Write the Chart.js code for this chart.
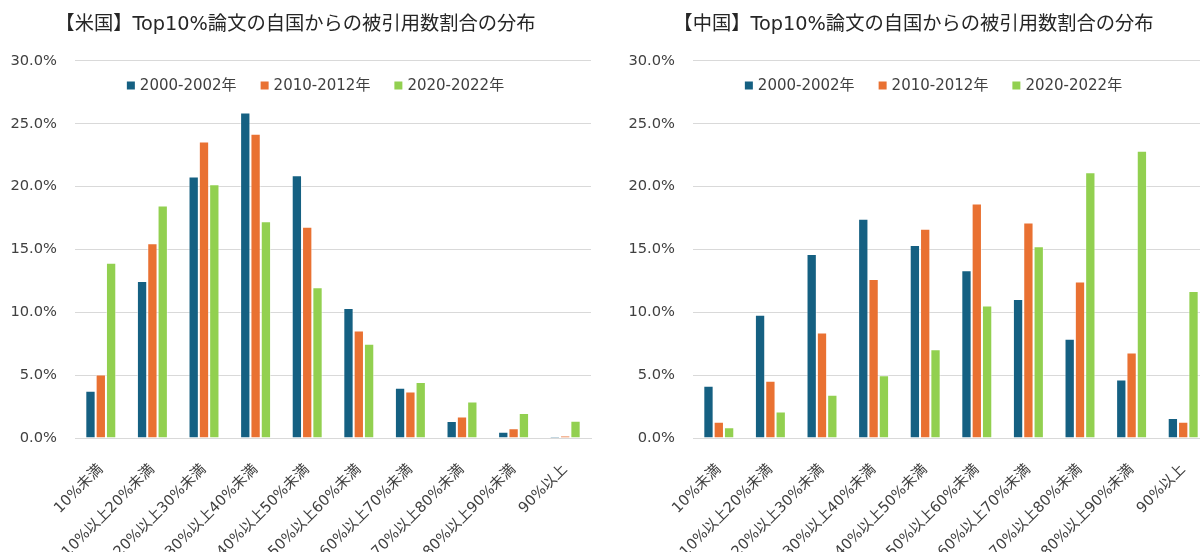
<!DOCTYPE html>
<html>
<head>
<meta charset="utf-8">
<script src="https://cdn.jsdelivr.net/npm/chart.js@4"></script>
<style>
html,body{margin:0;padding:0;background:#fff;overflow:hidden;width:1200px;height:552px;}
.box{position:absolute;top:0;height:552px;}
</style>
</head>
<body>
<div class="box" style="left:0;width:606px;"><canvas id="us" width="606" height="552"></canvas></div>
<div class="box" style="left:618px;width:610px;"><canvas id="cn" width="610" height="552"></canvas></div>
<script>
const categories = ['10%未満','10%以上20%未満','20%以上30%未満','30%以上40%未満','40%以上50%未満','50%以上60%未満','60%以上70%未満','70%以上80%未満','80%以上90%未満','90%以上'];
const seriesLabels = ['2000-2002年','2010-2012年','2020-2022年'];
const seriesColors = ['#156082','#E97132','#92D050'];
const us2000 = [3.75,12.5,20.8,25.9,20.9,10.35,4.0,1.35,0.5,0.1];
const us2010 = [5.05,15.5,23.6,24.2,16.8,8.55,3.7,1.72,0.78,0.2];
const us2020 = [13.95,18.5,20.2,17.25,12.0,7.5,4.45,2.9,1.98,1.37];
const cn2000 = [4.15,9.8,14.65,17.45,15.35,13.35,11.05,7.9,4.65,1.6];
const cn2010 = [1.3,4.55,8.4,12.65,16.65,18.65,17.15,12.45,6.8,1.3];
const cn2020 = [0.85,2.1,3.45,5.0,7.07,10.55,15.25,21.15,22.85,11.7];
const yMin = 0, yMax = 30, yStep = 5;
const titleUS = '【米国】Top10%論文の自国からの被引用数割合の分布';
const titleCN = '【中国】Top10%論文の自国からの被引用数割合の分布';

const FONT = '"DejaVu Sans", "Noto Sans CJK JP", sans-serif';
const TXT = '#404040';

const legendPlugin = {
  id: 'customLegend',
  afterDraw(chart) {
    const ctx = chart.ctx;
    ctx.save();
    ctx.font = '15px ' + FONT;
    ctx.textBaseline = 'middle';
    ctx.textAlign = 'left';
    const sq = 8, gap = 5, itemGap = 24;
    const items = chart.data.datasets.map(d => ({label: d.label, color: d.backgroundColor, w: ctx.measureText(d.label).width}));
    let total = 0;
    items.forEach((it, i) => { total += sq + gap + it.w + (i < items.length - 1 ? itemGap : 0); });
    let x = 315.5 - total / 2;
    const y = 85.5;
    items.forEach(it => {
      ctx.fillStyle = it.color;
      ctx.fillRect(x, y - sq / 2, sq, sq);
      x += sq + gap;
      ctx.fillStyle = TXT;
      ctx.fillText(it.label, x, y + 1);
      x += it.w + itemGap;
    });
    ctx.restore();
  }
};

function makeChart(id, title, a, b, c, padRight) {
  const vals = [a, b, c];
  return new Chart(document.getElementById(id), {
    type: 'bar',
    data: {
      labels: categories,
      datasets: seriesLabels.map((lab, i) => ({
        label: lab,
        data: vals[i],
        backgroundColor: seriesColors[i],
        borderColor: 'rgba(255,255,255,0.5)',
        borderWidth: 1,
        categoryPercentage: 0.6,
        barPercentage: 1.0
      }))
    },
    options: {
      responsive: false,
      animation: false,
      layout: { padding: { left: 0, right: padRight, top: 0, bottom: 0 } },
      plugins: {
        legend: { display: false },
        tooltip: { enabled: false },
        title: {
          display: true,
          text: title,
          color: '#262626',
          font: { family: FONT, size: 19.3, weight: 'normal', lineHeight: 1.2 },
          padding: { top: 13, bottom: 24.8 }
        }
      },
      scales: {
        x: {
          grid: { display: false, drawTicks: false },
          border: { display: true, color: '#d9d9d9', width: 1 },
          ticks: {
            autoSkip: false,
            maxRotation: 45,
            minRotation: 45,
            padding: 23,
            color: TXT,
            font: { family: FONT, size: 14.67 }
          },
          afterFit(scale) { scale.height = 114; }
        },
        y: {
          min: yMin,
          max: yMax,
          grid: { color: '#d9d9d9', lineWidth: 1, drawTicks: false },
          border: { display: false },
          ticks: {
            stepSize: yStep,
            padding: 18,
            color: TXT,
            font: { family: FONT, size: 14.67 },
            callback: v => v.toFixed(1) + '%'
          },
          afterFit(scale) { scale.width = 75; }
        }
      }
    },
    plugins: [legendPlugin]
  });
}

makeChart('us', titleUS, us2000, us2010, us2020, 15);
makeChart('cn', titleCN, cn2000, cn2010, cn2020, 19);
</script>
</body>
</html>
